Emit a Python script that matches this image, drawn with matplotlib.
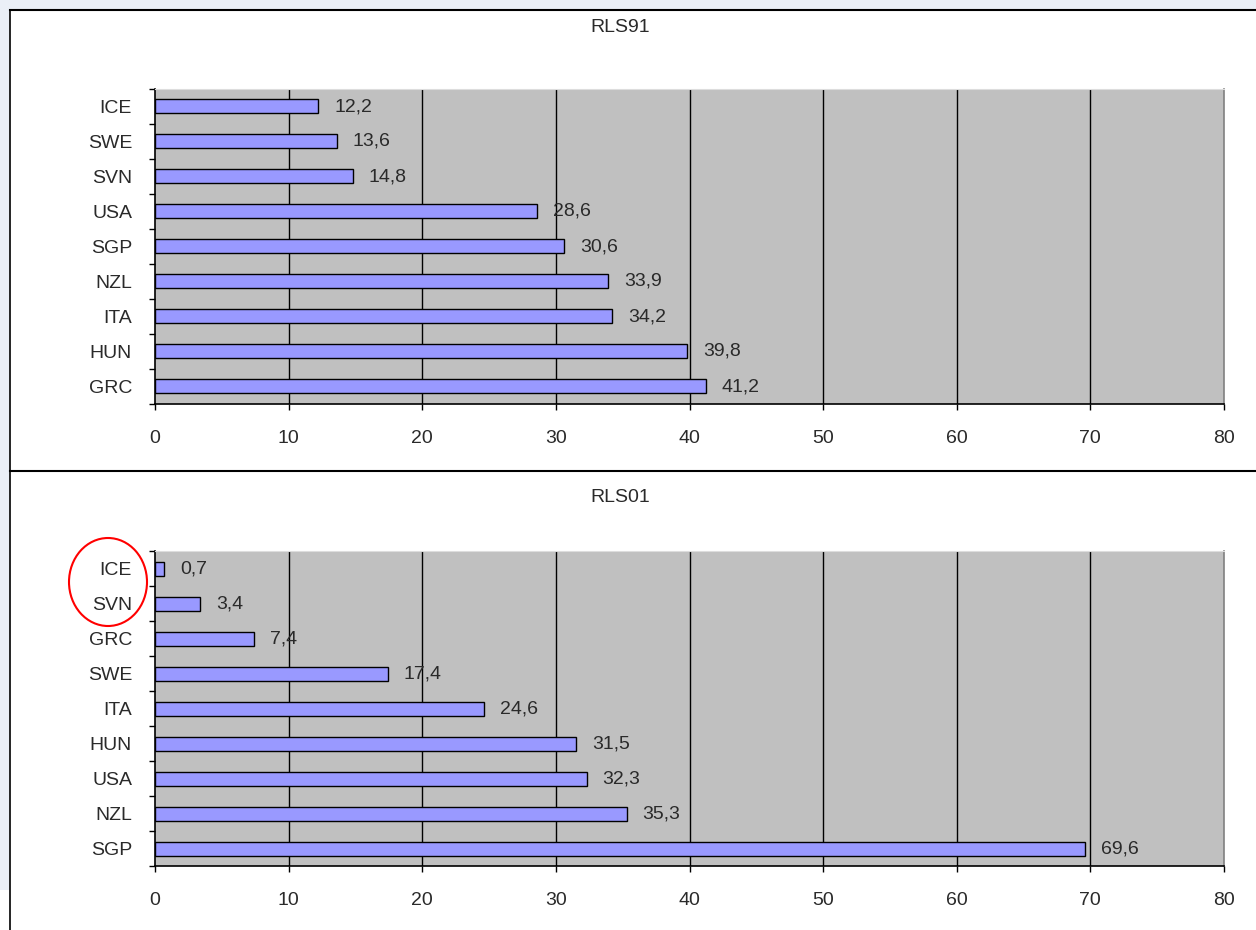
import matplotlib
matplotlib.use("Agg")
import matplotlib.pyplot as plt
from matplotlib.patches import Ellipse, Rectangle
from matplotlib.lines import Line2D

plt.rcParams['font.family'] = ['Liberation Sans', 'DejaVu Sans']

# RLS 1991 and RLS 2001 results, listed top to bottom
countries_91 = ["ICE", "SWE", "SVN", "USA", "SGP", "NZL", "ITA", "HUN", "GRC"]
values_91 = [12.2, 13.6, 14.8, 28.6, 30.6, 33.9, 34.2, 39.8, 41.2]

countries_01 = ["ICE", "SVN", "GRC", "SWE", "ITA", "HUN", "USA", "NZL", "SGP"]
values_01 = [0.7, 3.4, 7.4, 17.4, 24.6, 31.5, 32.3, 35.3, 69.6]

x_ticks = [0, 10, 20, 30, 40, 50, 60, 70, 80]

W, H = 1256, 930
fig = plt.figure(figsize=(W / 100, H / 100), dpi=100)
fig.patch.set_facecolor("white")

def px_rect(x0, y0, x1, y1):
    """Figure-fraction rectangle from pixel coordinates (top-left origin)."""
    return [x0 / W, 1 - y1 / H, (x1 - x0) / W, (y1 - y0) / H]

# window-like background strips and panel frames
bg = "#eaeff7"
fig.add_artist(Rectangle((0, 1 - 10 / H), 1, 10 / H, transform=fig.transFigure,
                         facecolor=bg, edgecolor="none", zorder=0))
fig.add_artist(Rectangle((0, 1 - 890 / H), 10 / W, 880 / H, transform=fig.transFigure,
                         facecolor=bg, edgecolor="none", zorder=0))
for y in (10.5, 471):
    fig.add_artist(Line2D([10 / W, 1], [1 - y / H, 1 - y / H], transform=fig.transFigure,
                          color="black", lw=1.5, zorder=5))
fig.add_artist(Line2D([10 / W, 10 / W], [0, 1 - 10 / H], transform=fig.transFigure,
                      color="black", lw=1.2, zorder=5))

FS = 14
TXT = "#2a2a2a"

def draw_panel(title, cats, vals, top, title_y):
    ax = fig.add_axes(px_rect(155, top, 1224, top + 315))
    ax.set_facecolor("#c0c0c0")
    n = len(cats)
    ypos = list(range(n))
    ax.barh(ypos, vals, height=0.4, color="#9999ff", edgecolor="black",
            linewidth=1.0, zorder=3)
    ax.set_xlim(0, 80)
    ax.set_ylim(n - 0.5, -0.5)
    ax.set_xticks(x_ticks)
    ax.set_xticklabels([str(t) for t in x_ticks], fontsize=FS, color=TXT)
    ax.set_yticks(ypos)
    ax.set_yticklabels(cats, fontsize=FS, color=TXT)
    ax.tick_params(axis="y", length=0, pad=16.5)
    ax.tick_params(axis="x", length=4.5, width=1, direction="out", pad=14)
    # category boundary ticks on the value axis
    ax.set_yticks([i - 0.5 for i in range(n + 1)], minor=True)
    ax.tick_params(axis="y", which="minor", length=4.5, width=1, direction="out")
    for x in x_ticks[1:-1]:
        ax.axvline(x, color="black", lw=1.0, zorder=2)
    for s in ("left", "bottom"):
        ax.spines[s].set_color("black")
        ax.spines[s].set_linewidth(1.2)
    ax.spines["top"].set_color("#dddddd")
    ax.spines["right"].set_color("#808080")
    ax.spines["right"].set_linewidth(1.2)
    for y, v in zip(ypos, vals):
        ax.annotate(f"{v:.1f}".replace(".", ","), (v, y), xytext=(16, 0),
                    textcoords="offset pixels", va="center", ha="left",
                    fontsize=FS, color=TXT, zorder=4)
    fig.text(620 / W, 1 - title_y / H, title, ha="center", va="center",
             fontsize=FS, color=TXT)
    return ax

draw_panel("RLS91", countries_91, values_91, 89, 27)
draw_panel("RLS01", countries_01, values_01, 551, 497)

# highlight around the first two labels of the lower panel
fig.add_artist(Ellipse((108 / W, 1 - 582 / H), 78 / W, 88 / H,
                       transform=fig.transFigure, facecolor="none",
                       edgecolor="red", lw=1.5, zorder=6))

fig.savefig("out.png", dpi=100)
